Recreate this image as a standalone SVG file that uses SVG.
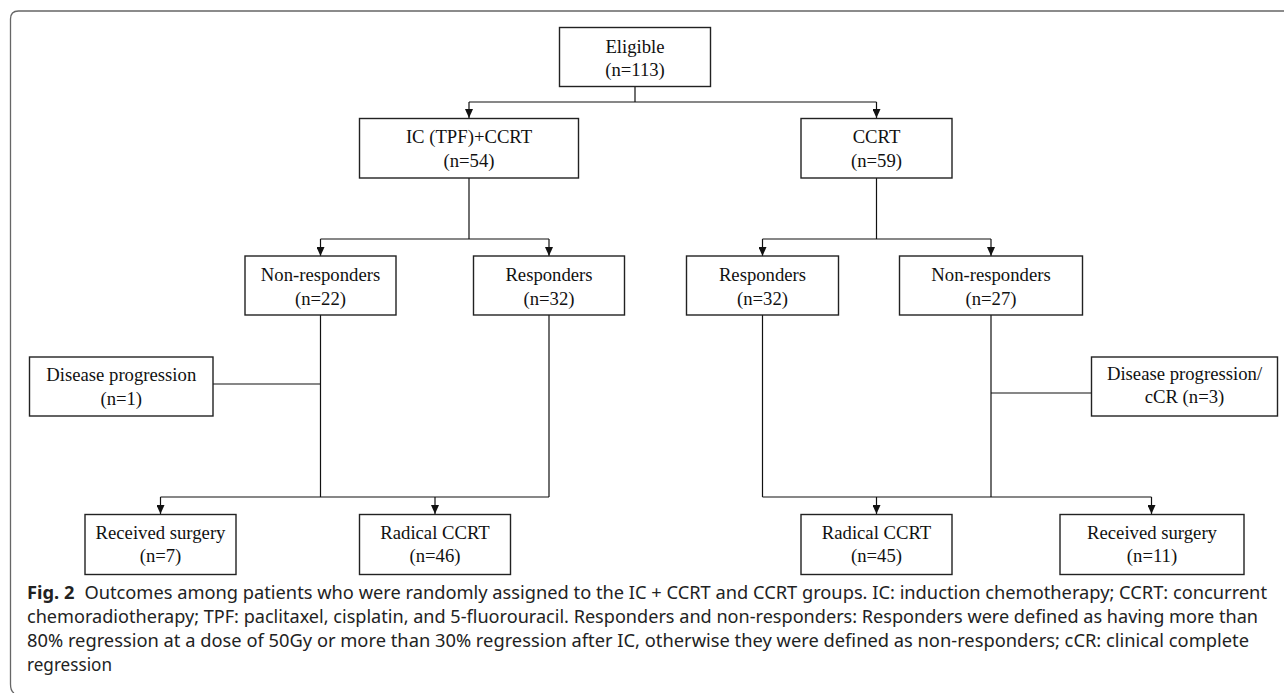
<svg xmlns="http://www.w3.org/2000/svg" width="1284" height="693" viewBox="0 0 1284 693">
<defs>
<marker id="arr" markerUnits="userSpaceOnUse" markerWidth="9" markerHeight="8" refX="9" refY="4" orient="auto">
<path d="M0,0 L9,4 L0,8 z" fill="#111"/>
</marker>
<style>
.box{fill:#fff;stroke:#222;stroke-width:1.4}
.t{font-family:"Liberation Serif","Times New Roman",serif;font-size:18.7px;fill:#111;text-anchor:middle}
.c{fill:none;stroke:#111;stroke-width:1.2}
.cap{font-family:"Noto Sans","Open Sans",sans-serif;font-size:17.2px;fill:#222}
.frame{fill:none;stroke:#666;stroke-width:1.3}
</style>
</defs>
<rect width="1284" height="693" fill="#fff"/>
<path class="frame" d="M10.5 684 L10.5 19 Q10.5 11 18.5 11 L1284 11 M10.5 684 Q10.5 691 14 693"/>

<g id="connectors">
<path class="c" d="M635 86.5 V102 M469 102 H876.5"/>
<path class="c" d="M469 102 V118" marker-end="url(#arr)"/>
<path class="c" d="M876.5 102 V118" marker-end="url(#arr)"/>
<path class="c" d="M469 178 V239 M320.5 239 H549"/>
<path class="c" d="M320.5 239 V256" marker-end="url(#arr)"/>
<path class="c" d="M549 239 V256" marker-end="url(#arr)"/>
<path class="c" d="M876.5 178 V239 M762.5 239 H991"/>
<path class="c" d="M762.5 239 V256" marker-end="url(#arr)"/>
<path class="c" d="M991 239 V256" marker-end="url(#arr)"/>
<path class="c" d="M320.5 315 V497 M549 315 V497 M160.5 497 H549 M213 384 H320.5"/>
<path class="c" d="M160.5 497 V514" marker-end="url(#arr)"/>
<path class="c" d="M435 497 V514" marker-end="url(#arr)"/>
<path class="c" d="M762.5 315 V497 M991 315 V497 M762.5 497 H1151.5 M991 393 H1091.5"/>
<path class="c" d="M876.5 497 V514" marker-end="url(#arr)"/>
<path class="c" d="M1151.5 497 V514" marker-end="url(#arr)"/>
</g>

<g id="eligible">
<rect class="box" x="559.5" y="27.5" width="151" height="59"/>
<text class="t" x="635" y="52.5">Eligible</text>
<text class="t" x="635" y="75.5">(n=113)</text>
</g>
<g id="ic-ccrt">
<rect class="box" x="359.5" y="118.5" width="219" height="59.5"/>
<text class="t" x="469" y="143">IC (TPF)+CCRT</text>
<text class="t" x="469" y="166.5">(n=54)</text>
</g>
<g id="ccrt">
<rect class="box" x="801" y="118.5" width="151" height="59.5"/>
<text class="t" x="876.5" y="143">CCRT</text>
<text class="t" x="876.5" y="166.5">(n=59)</text>
</g>
<g id="nonresp-left">
<rect class="box" x="245" y="256" width="151" height="59"/>
<text class="t" x="320.5" y="281">Non-responders</text>
<text class="t" x="320.5" y="304.5">(n=22)</text>
</g>
<g id="resp-left">
<rect class="box" x="473.5" y="256" width="151" height="59"/>
<text class="t" x="549" y="281">Responders</text>
<text class="t" x="549" y="304.5">(n=32)</text>
</g>
<g id="resp-right">
<rect class="box" x="686.5" y="256" width="152" height="59"/>
<text class="t" x="762.5" y="281">Responders</text>
<text class="t" x="762.5" y="304.5">(n=32)</text>
</g>
<g id="nonresp-right">
<rect class="box" x="899.5" y="256" width="183" height="59"/>
<text class="t" x="991" y="281">Non-responders</text>
<text class="t" x="991" y="304.5">(n=27)</text>
</g>
<g id="disease-left">
<rect class="box" x="29.5" y="357" width="183.5" height="59"/>
<text class="t" x="121.25" y="381">Disease progression</text>
<text class="t" x="121.25" y="404.5">(n=1)</text>
</g>
<g id="disease-right">
<rect class="box" x="1091.5" y="357" width="186" height="59"/>
<text class="t" x="1184.5" y="379.5">Disease progression/</text>
<text class="t" x="1184.5" y="403">cCR (n=3)</text>
</g>
<g id="surgery-left">
<rect class="box" x="85" y="514.5" width="151" height="60"/>
<text class="t" x="160.5" y="538.5">Received surgery</text>
<text class="t" x="160.5" y="562">(n=7)</text>
</g>
<g id="radical-left">
<rect class="box" x="359.5" y="514.5" width="151" height="60"/>
<text class="t" x="435" y="538.5">Radical CCRT</text>
<text class="t" x="435" y="562">(n=46)</text>
</g>
<g id="radical-right">
<rect class="box" x="801" y="514.5" width="151" height="60"/>
<text class="t" x="876.5" y="538.5">Radical CCRT</text>
<text class="t" x="876.5" y="562">(n=45)</text>
</g>
<g id="surgery-right">
<rect class="box" x="1060" y="514.5" width="184" height="60"/>
<text class="t" x="1152" y="538.5">Received surgery</text>
<text class="t" x="1152" y="562">(n=11)</text>
</g>

<g id="caption">
<text class="cap" x="27" y="598.5" textLength="1240" lengthAdjust="spacingAndGlyphs"><tspan font-weight="bold">Fig. 2</tspan><tspan dx="5"> Outcomes among patients who were randomly assigned to the IC + CCRT and CCRT groups. IC: induction chemotherapy; CCRT: concurrent</tspan></text>
<text class="cap" x="27" y="622.5" textLength="1231" lengthAdjust="spacingAndGlyphs">chemoradiotherapy; TPF: paclitaxel, cisplatin, and 5-fluorouracil. Responders and non-responders: Responders were defined as having more than</text>
<text class="cap" x="27" y="646.5" textLength="1222" lengthAdjust="spacingAndGlyphs">80% regression at a dose of 50Gy or more than 30% regression after IC, otherwise they were defined as non-responders; cCR: clinical complete</text>
<text class="cap" x="27" y="670.5" textLength="85" lengthAdjust="spacingAndGlyphs">regression</text>
</g>
</svg>
